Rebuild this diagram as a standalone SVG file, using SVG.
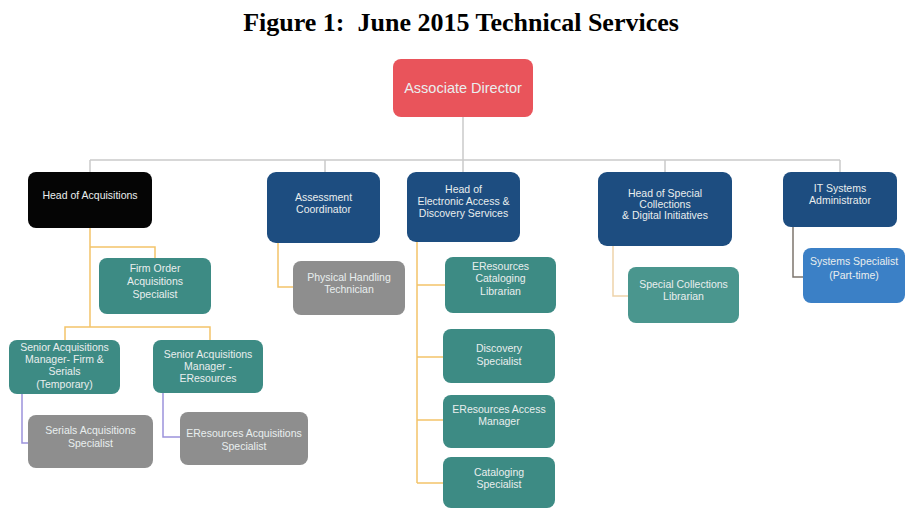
<svg xmlns="http://www.w3.org/2000/svg" width="906" height="510" viewBox="0 0 906 510">
  <style>
    .title { font-family: "Liberation Serif", "Times New Roman", serif; font-weight: bold; font-size: 26px; fill: #000; }
    .box { stroke: none; }
    .lbl { font-family: "Liberation Sans", Arial, sans-serif; font-size: 10.5px; fill: #e9eeee; text-anchor: middle; }
    .big { font-size: 14.5px; }
    .red { fill: #e9545b; }
    .black { fill: #050505; }
    .navy { fill: #1d4d80; }
    .teal { fill: #3d8b84; }
    .teal2 { fill: #4a968e; }
    .gray { fill: #8e8e8e; }
    .sky { fill: #3b80c6; }
    .ln { fill: none; stroke-width: 1.5; }
    .ln-gray { stroke: #cacaca; }
    .ln-orange { stroke: #f3c46a; }
    .ln-tan { stroke: #eed3aa; }
    .ln-dark { stroke: #7d756e; }
    .ln-purple { stroke: #9c93dc; }
  </style>

  <rect width="906" height="510" fill="#ffffff"/>

  <text class="title" x="461" y="31" text-anchor="middle" xml:space="preserve">Figure 1:  June 2015 Technical Services</text>

  <!-- connectors -->
  <g id="connectors">
    <path class="ln ln-gray" d="M463,117 V160 M90,160 H840 M90,160 V172 M325,160 V172 M463,160 V172 M665,160 V172 M840,160 V172"/>
    <path class="ln ln-orange" d="M90,228 V327 M90,247 H155 V258 M65,340 V327 H210 V340"/>
    <path class="ln ln-orange" d="M278,243 V287 H293"/>
    <path class="ln ln-orange" d="M417,242 V483 M417,285 H445 M417,357 H443 M417,420 H443 M417,483 H443"/>
    <path class="ln ln-tan" d="M613,246 V296 H628"/>
    <path class="ln ln-dark" d="M793,227 V277 H803"/>
    <path class="ln ln-purple" d="M22,394 V443 H28 M163,393 V437 H180"/>
  </g>

  <g id="associate-director">
    <rect class="box red" x="393" y="59" width="140" height="58" rx="8"/>
    <text class="lbl big" x="463" y="93">Associate Director</text>
  </g>

  <g id="head-acquisitions">
    <rect class="box black" x="28" y="172" width="124" height="56" rx="8"/>
    <text class="lbl" x="90" y="199">Head of Acquisitions</text>
  </g>

  <g id="assessment-coordinator">
    <rect class="box navy" x="267" y="172" width="113" height="71" rx="9"/>
    <text class="lbl" x="323.5" y="201">Assessment</text>
    <text class="lbl" x="323.5" y="213">Coordinator</text>
  </g>

  <g id="head-electronic-access">
    <rect class="box navy" x="407" y="172" width="113" height="70" rx="9"/>
    <text class="lbl" x="463.5" y="193">Head of</text>
    <text class="lbl" x="463.5" y="205">Electronic Access &amp;</text>
    <text class="lbl" x="463.5" y="217">Discovery Services</text>
  </g>

  <g id="head-special-collections">
    <rect class="box navy" x="598" y="172" width="134" height="74" rx="9"/>
    <text class="lbl" x="665" y="197">Head of Special</text>
    <text class="lbl" x="665" y="208">Collections</text>
    <text class="lbl" x="665" y="219">&amp; Digital Initiatives</text>
  </g>

  <g id="it-systems-administrator">
    <rect class="box navy" x="783" y="172" width="114" height="55" rx="8"/>
    <text class="lbl" x="840" y="192">IT Systems</text>
    <text class="lbl" x="840" y="204">Administrator</text>
  </g>

  <g id="systems-specialist">
    <rect class="box sky" x="803" y="248" width="102" height="55" rx="8"/>
    <text class="lbl" x="854" y="265">Systems Specialist</text>
    <text class="lbl" x="854" y="279">(Part-time)</text>
  </g>

  <g id="firm-order-specialist">
    <rect class="box teal" x="99" y="258" width="112" height="56" rx="8"/>
    <text class="lbl" x="155" y="272">Firm Order</text>
    <text class="lbl" x="155" y="285">Acquisitions</text>
    <text class="lbl" x="155" y="298">Specialist</text>
  </g>

  <g id="physical-handling-technician">
    <rect class="box gray" x="293" y="261" width="112" height="54" rx="8"/>
    <text class="lbl" x="349" y="281">Physical Handling</text>
    <text class="lbl" x="349" y="293">Technician</text>
  </g>

  <g id="eresources-cataloging-librarian">
    <rect class="box teal" x="445" y="257" width="111" height="56" rx="8"/>
    <text class="lbl" x="500.5" y="270">EResources</text>
    <text class="lbl" x="500.5" y="282">Cataloging</text>
    <text class="lbl" x="500.5" y="295">Librarian</text>
  </g>

  <g id="discovery-specialist">
    <rect class="box teal" x="443" y="329" width="112" height="54" rx="8"/>
    <text class="lbl" x="499" y="352">Discovery</text>
    <text class="lbl" x="499" y="365">Specialist</text>
  </g>

  <g id="eresources-access-manager">
    <rect class="box teal" x="443" y="395" width="112" height="53" rx="8"/>
    <text class="lbl" x="499" y="413">EResources Access</text>
    <text class="lbl" x="499" y="425">Manager</text>
  </g>

  <g id="cataloging-specialist">
    <rect class="box teal" x="443" y="457" width="112" height="51" rx="8"/>
    <text class="lbl" x="499" y="476">Cataloging</text>
    <text class="lbl" x="499" y="488">Specialist</text>
  </g>

  <g id="special-collections-librarian">
    <rect class="box teal2" x="628" y="267" width="111" height="56" rx="8"/>
    <text class="lbl" x="683.5" y="288">Special Collections</text>
    <text class="lbl" x="683.5" y="300">Librarian</text>
  </g>

  <g id="senior-acq-manager-firm-serials">
    <rect class="box teal" x="9" y="340" width="111" height="54" rx="8"/>
    <text class="lbl" x="64.5" y="351">Senior Acquisitions</text>
    <text class="lbl" x="64.5" y="363">Manager- Firm &amp;</text>
    <text class="lbl" x="64.5" y="375">Serials</text>
    <text class="lbl" x="64.5" y="388">(Temporary)</text>
  </g>

  <g id="senior-acq-manager-eresources">
    <rect class="box teal" x="153" y="340" width="110" height="53" rx="8"/>
    <text class="lbl" x="208" y="358">Senior Acquisitions</text>
    <text class="lbl" x="208" y="370">Manager -</text>
    <text class="lbl" x="208" y="382">EResources</text>
  </g>

  <g id="serials-acquisitions-specialist">
    <rect class="box gray" x="28" y="415" width="125" height="53" rx="8"/>
    <text class="lbl" x="90.5" y="434">Serials Acquisitions</text>
    <text class="lbl" x="90.5" y="447">Specialist</text>
  </g>

  <g id="eresources-acquisitions-specialist">
    <rect class="box gray" x="180" y="412" width="128" height="53" rx="8"/>
    <text class="lbl" x="244" y="437">EResources Acquisitions</text>
    <text class="lbl" x="244" y="450">Specialist</text>
  </g>
</svg>
